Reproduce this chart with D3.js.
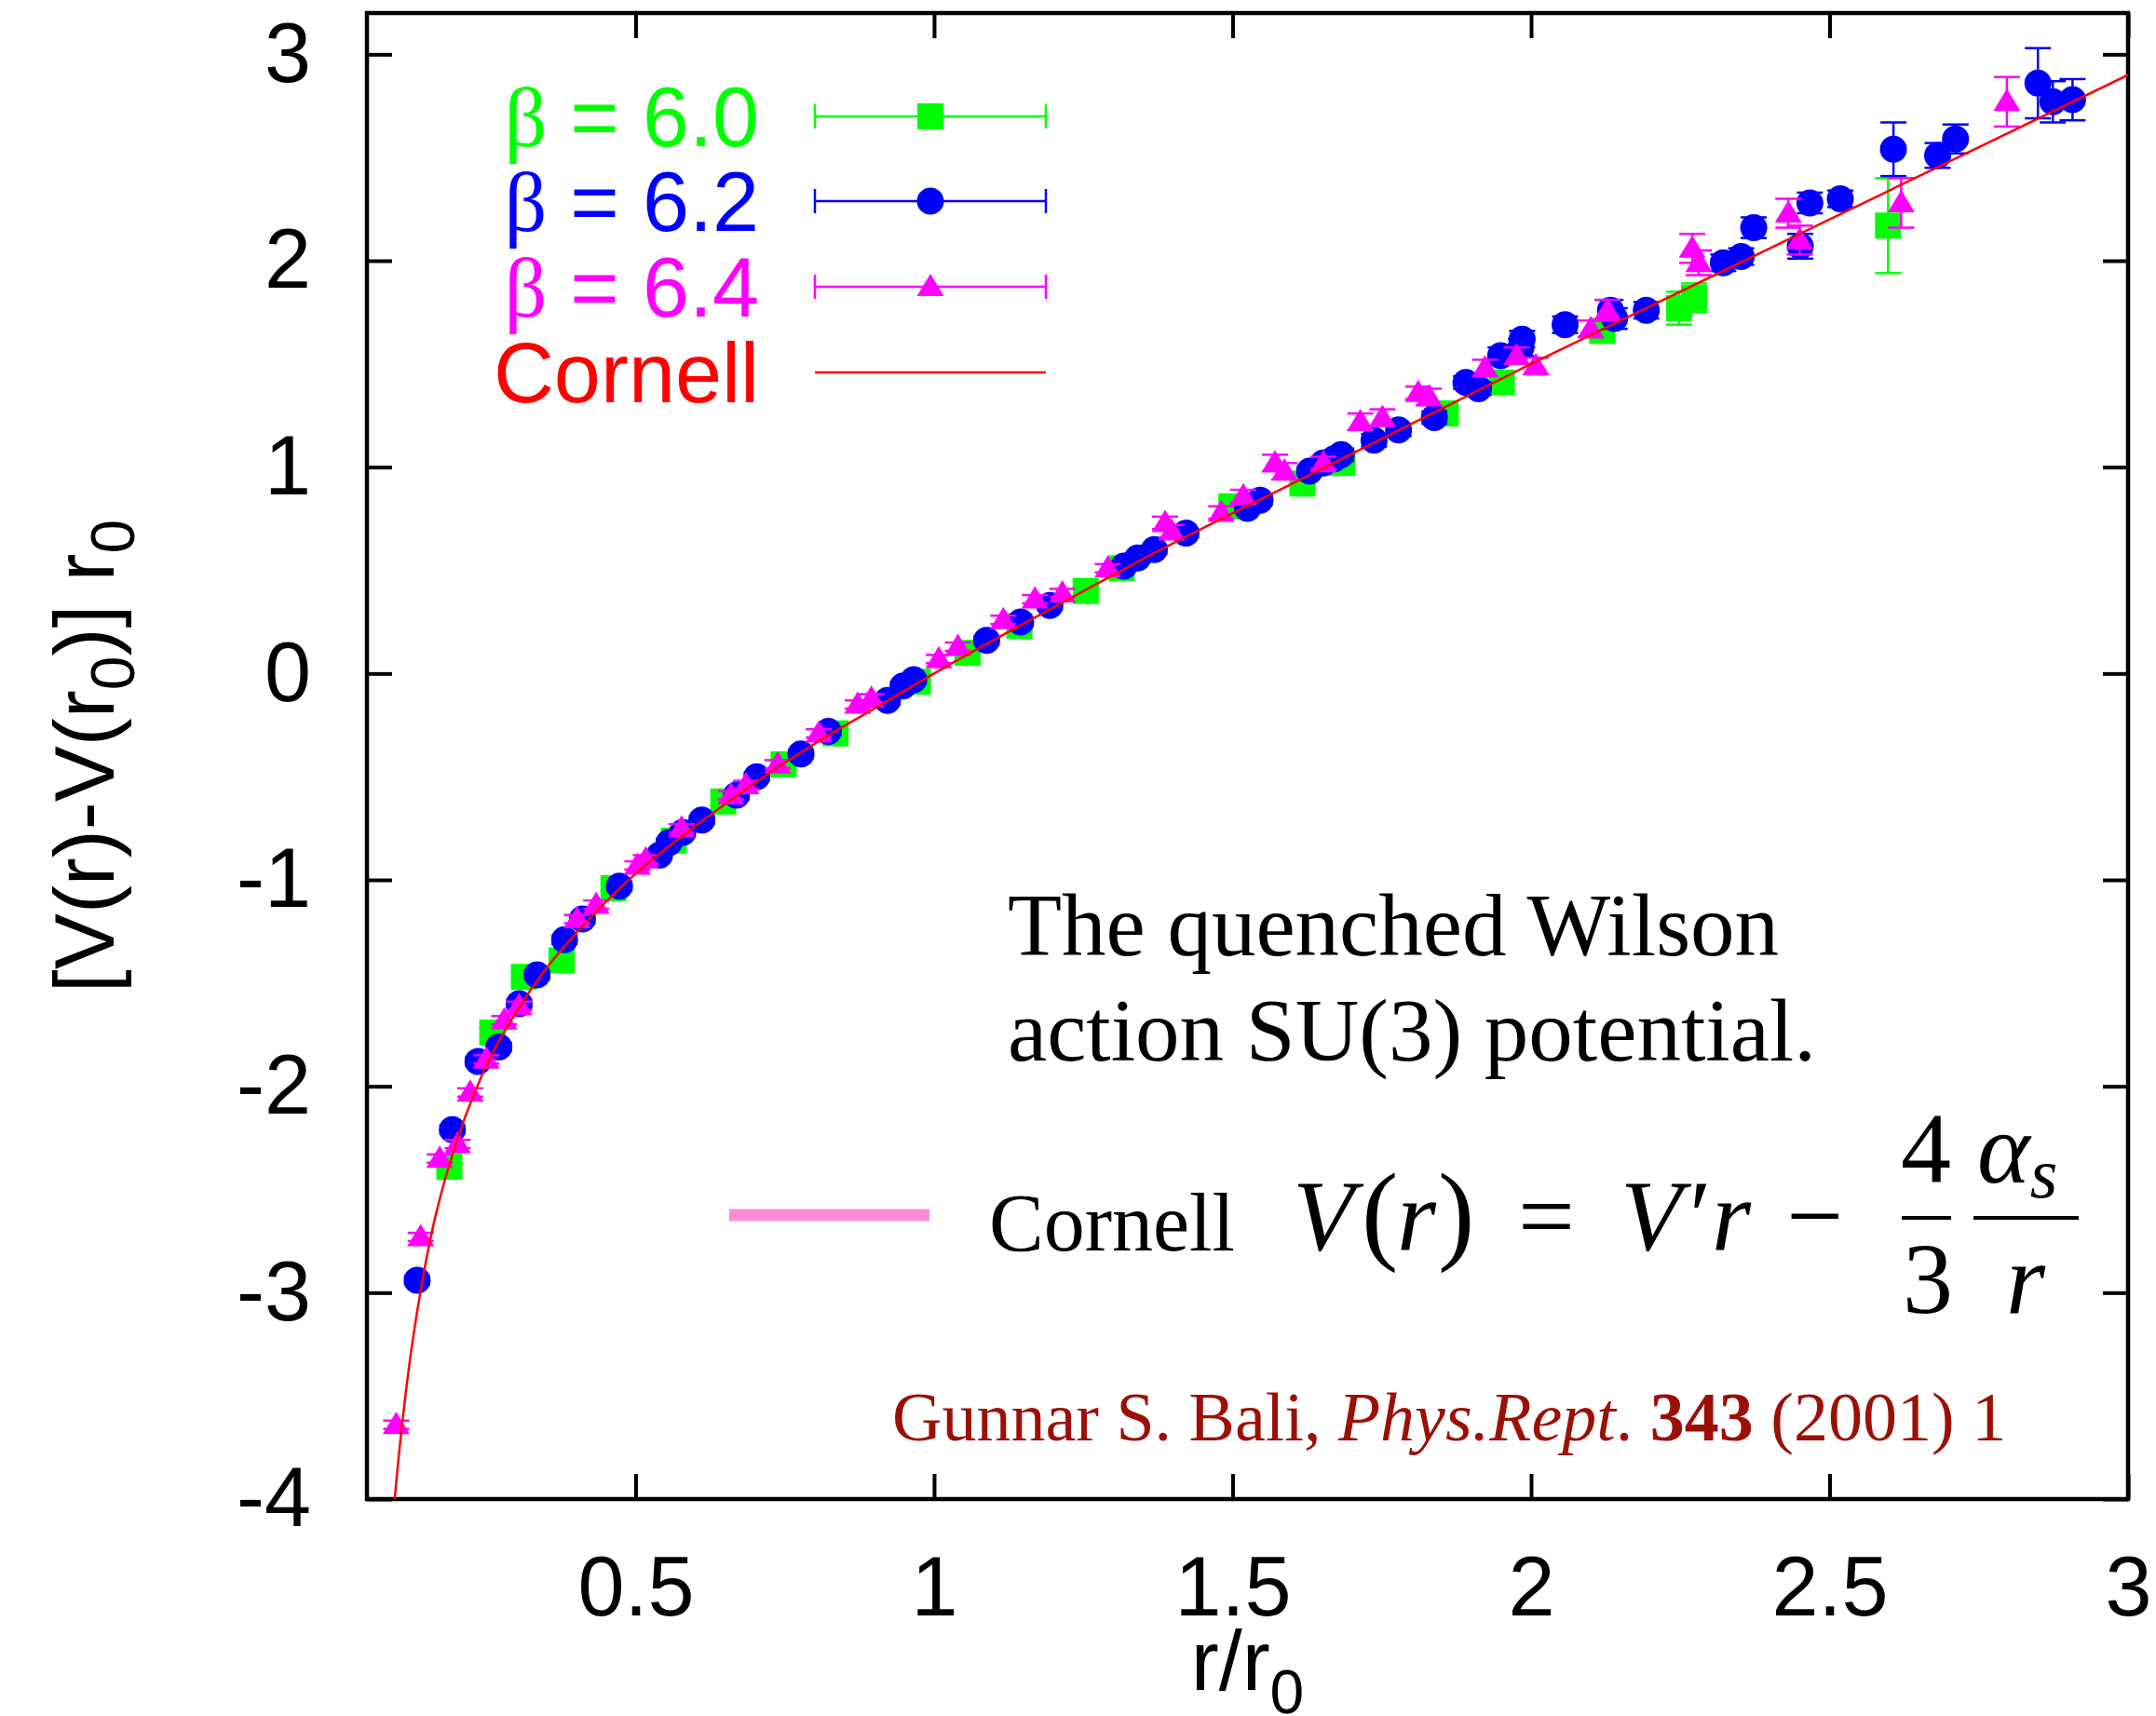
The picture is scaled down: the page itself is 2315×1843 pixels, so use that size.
<!DOCTYPE html>
<html>
<head>
<meta charset="utf-8">
<script src="https://cdn.jsdelivr.net/npm/d3@7"></script>
<style>
  html, body { margin: 0; padding: 0; background: #fff; }
  svg { display: block; }
</style>
</head>
<body>
<div id="chart"></div>
<script>
// beta = 6.0 (green squares)
var r60 = [0.188, 0.260, 0.313, 0.376, 0.463, 0.564, 0.647, 0.748, 0.835, 0.973, 1.056, 1.143, 1.254, 1.314, 1.498, 1.617, 1.684, 1.857, 1.951, 2.119, 2.248, 2.273, 2.598];
var v60 = [-2.39, -1.74, -1.47, -1.39, -1.04, -0.81, -0.62, -0.44, -0.29, -0.04, 0.10, 0.23, 0.40, 0.51, 0.81, 0.92, 1.02, 1.26, 1.41, 1.66, 1.77, 1.82, 2.17];
var e60 = [0.02, 0.02, 0.02, 0.02, 0.02, 0.02, 0.02, 0.02, 0.02, 0.02, 0.02, 0.02, 0.02, 0.02, 0.03, 0.03, 0.03, 0.03, 0.04, 0.04, 0.08, 0.07, 0.23];

// beta = 6.2 (blue circles)
var r62 = [0.134, 0.193, 0.236, 0.271, 0.305, 0.335, 0.381, 0.411, 0.473, 0.540, 0.556, 0.579, 0.611, 0.669, 0.703, 0.777, 0.823, 0.922, 0.948, 0.966, 1.088, 1.145, 1.194, 1.318, 1.341, 1.369, 1.422, 1.525, 1.546, 1.629, 1.652, 1.670, 1.682, 1.737, 1.778, 1.838, 1.891, 1.912, 1.949, 1.983, 1.985, 2.057, 2.133, 2.140, 2.193, 2.322, 2.352, 2.373, 2.451, 2.467, 2.518, 2.607, 2.681, 2.711, 2.849, 2.874, 2.907];
var v62 = [-2.94, -2.21, -1.88, -1.81, -1.60, -1.46, -1.29, -1.19, -1.03, -0.88, -0.82, -0.77, -0.71, -0.59, -0.50, -0.39, -0.28, -0.13, -0.06, -0.03, 0.16, 0.25, 0.33, 0.52, 0.56, 0.60, 0.68, 0.80, 0.84, 0.98, 1.02, 1.04, 1.06, 1.13, 1.18, 1.24, 1.41, 1.38, 1.54, 1.58, 1.62, 1.69, 1.76, 1.72, 1.76, 1.99, 2.02, 2.16, 2.07, 2.28, 2.30, 2.54, 2.51, 2.59, 2.86, 2.77, 2.78];
var e62 = [0.02, 0.02, 0.02, 0.02, 0.02, 0.02, 0.02, 0.02, 0.02, 0.02, 0.02, 0.02, 0.02, 0.02, 0.02, 0.02, 0.02, 0.02, 0.02, 0.02, 0.02, 0.02, 0.02, 0.02, 0.02, 0.02, 0.02, 0.02, 0.02, 0.02, 0.02, 0.02, 0.03, 0.03, 0.03, 0.03, 0.03, 0.03, 0.04, 0.04, 0.04, 0.04, 0.05, 0.05, 0.04, 0.04, 0.04, 0.05, 0.06, 0.05, 0.04, 0.13, 0.06, 0.07, 0.17, 0.10, 0.10];

// beta = 6.4 (magenta triangles)
var r64 = [0.099, 0.140, 0.172, 0.202, 0.223, 0.250, 0.280, 0.305, 0.402, 0.434, 0.503, 0.517, 0.577, 0.660, 0.685, 0.738, 0.807, 0.872, 0.895, 1.008, 1.040, 1.116, 1.169, 1.215, 1.291, 1.387, 1.398, 1.481, 1.518, 1.571, 1.587, 1.652, 1.714, 1.751, 1.811, 1.829, 1.923, 1.976, 2.008, 2.100, 2.128, 2.270, 2.281, 2.431, 2.450, 2.620, 2.797];
var v64 = [-3.64, -2.73, -2.35, -2.28, -2.03, -1.87, -1.68, -1.61, -1.19, -1.12, -0.93, -0.90, -0.75, -0.59, -0.54, -0.44, -0.29, -0.15, -0.12, 0.07, 0.13, 0.26, 0.36, 0.39, 0.51, 0.73, 0.69, 0.78, 0.86, 1.02, 0.98, 1.02, 1.22, 1.24, 1.36, 1.34, 1.48, 1.54, 1.49, 1.67, 1.76, 2.06, 1.99, 2.23, 2.10, 2.28, 2.77];
var e64 = [0.02, 0.02, 0.02, 0.02, 0.02, 0.02, 0.02, 0.02, 0.02, 0.02, 0.02, 0.02, 0.02, 0.02, 0.02, 0.02, 0.02, 0.02, 0.02, 0.02, 0.02, 0.02, 0.02, 0.02, 0.02, 0.03, 0.03, 0.03, 0.03, 0.04, 0.04, 0.03, 0.04, 0.04, 0.03, 0.04, 0.04, 0.04, 0.04, 0.04, 0.05, 0.07, 0.06, 0.07, 0.07, 0.12, 0.12];

// Cornell curve
var cornellR = [0.0965, 0.10, 0.12, 0.14, 0.16, 0.18, 0.20, 0.25, 0.30, 0.35, 0.40, 0.50, 0.60, 0.70, 0.80, 0.90, 1.00, 1.20, 1.40, 1.60, 1.80, 2.00, 2.25, 2.50, 2.75, 3.00];
var cornellV = [-4.00, -3.89, -3.37, -2.99, -2.69, -2.46, -2.27, -1.90, -1.64, -1.43, -1.26, -0.97, -0.74, -0.53, -0.34, -0.17, 0.00, 0.32, 0.63, 0.92, 1.21, 1.50, 1.85, 2.20, 2.55, 2.90];

var xTicks = [0.5, 1, 1.5, 2, 2.5, 3];
var yTicks = [-4, -3, -2, -1, 0, 1, 2, 3];

var W = 2315, H = 1843;
var margin = {left: 394, right: 30, top: 14, bottom: 233};
var sans = "'Liberation Sans', Arial, Helvetica, sans-serif";
var serif = "'Liberation Serif', 'Times New Roman', Times, serif";

var svg = d3.select("#chart").append("svg")
    .attr("width", W).attr("height", H);

var x = d3.scaleLinear().domain([0.05, 3]).range([margin.left, W - margin.right]);
var y = d3.scaleLinear().domain([-4, 3.2]).range([H - margin.bottom, margin.top]);

// axes with inward ticks on all four sides
function styleAxis(g) {
    g.select(".domain").remove();
    g.selectAll(".tick line").attr("stroke", "#000").attr("stroke-width", 4);
    g.selectAll(".tick text").attr("fill", "#000");
    g.attr("font-family", sans).attr("font-size", 90);
}

svg.append("g")
    .attr("transform", "translate(0," + y.range()[0] + ")")
    .call(d3.axisBottom(x).tickValues(xTicks).tickSizeInner(-27).tickSizeOuter(0)
        .tickPadding(61).tickFormat(function(d){ return String(d); }))
    .call(styleAxis);
svg.append("g")
    .attr("transform", "translate(0," + y.range()[1] + ")")
    .call(d3.axisTop(x).tickValues(xTicks).tickSizeInner(-27).tickSizeOuter(0).tickFormat(""))
    .call(styleAxis);
svg.append("g")
    .attr("transform", "translate(" + x.range()[0] + ",0)")
    .call(d3.axisLeft(y).tickValues(yTicks).tickSizeInner(-27).tickSizeOuter(0)
        .tickPadding(60).tickFormat(function(d){ return String(d); }))
    .call(styleAxis);
svg.append("g")
    .attr("transform", "translate(" + x.range()[1] + ",0)")
    .call(d3.axisRight(y).tickValues(yTicks).tickSizeInner(-27).tickSizeOuter(0).tickFormat(""))
    .call(styleAxis);

svg.append("rect")
    .attr("x", x.range()[0]).attr("y", y.range()[1])
    .attr("width", x.range()[1] - x.range()[0])
    .attr("height", y.range()[0] - y.range()[1])
    .attr("fill", "none").attr("stroke", "#000").attr("stroke-width", 4.5);

// axis titles
var xl = svg.append("text")
    .attr("x", (x.range()[0] + x.range()[1]) / 2).attr("y", 1815)
    .attr("text-anchor", "middle")
    .attr("font-family", sans).attr("font-size", 90);
xl.append("tspan").text("r/r");
xl.append("tspan").attr("font-size", 66).attr("dy", 25).text("0");

var yl = svg.append("text")
    .attr("transform", "translate(122," + ((y.range()[0] + y.range()[1]) / 2) + ") rotate(-90)")
    .attr("text-anchor", "middle")
    .attr("font-family", sans).attr("font-size", 90);
yl.append("tspan").text("[V(r)-V(r");
yl.append("tspan").attr("font-size", 66).attr("dy", 22).text("0");
yl.append("tspan").attr("dy", -22).text(")] r");
yl.append("tspan").attr("font-size", 66).attr("dy", 22).text("0");

// annotation texts
svg.append("text").attr("x", 1082).attr("y", 1026)
    .attr("font-family", serif).attr("font-size", 95).text("The quenched Wilson");
svg.append("text").attr("x", 1082).attr("y", 1139)
    .attr("font-family", serif).attr("font-size", 95).text("action SU(3) potential.");

svg.append("line")
    .attr("x1", 783).attr("x2", 998).attr("y1", 1305).attr("y2", 1305)
    .attr("stroke", "#ff8ad8").attr("stroke-width", 13);
svg.append("text").attr("x", 1062).attr("y", 1343)
    .attr("font-family", serif).attr("font-size", 88).text("Cornell");

// formula V(r) = V'r - 4/3 alpha_s / r
var fm = svg.append("g").attr("font-family", serif).attr("font-size", 108).attr("fill", "#000");
var main = fm.append("text").attr("y", 1342);
main.append("tspan").attr("x", 1388).attr("font-style", "italic").text("V");
main.append("tspan").attr("x", 1462).attr("font-size", 118).text("(");
main.append("tspan").attr("x", 1500).attr("font-style", "italic").text("r");
main.append("tspan").attr("x", 1544).attr("font-size", 118).text(")");
main.append("tspan").attr("x", 1630).text("=");
main.append("tspan").attr("x", 1740).attr("font-style", "italic").text("V");
main.append("tspan").attr("x", 1814).text("\u2032");
main.append("tspan").attr("x", 1838).attr("font-style", "italic").text("r");
main.append("tspan").attr("x", 1918).text("\u2212");
fm.append("text").attr("x", 2068).attr("y", 1270).attr("text-anchor", "middle").text("4");
fm.append("text").attr("x", 2070).attr("y", 1410).attr("text-anchor", "middle").text("3");
fm.append("line").attr("x1", 2042).attr("x2", 2095).attr("y1", 1308).attr("y2", 1308)
    .attr("stroke", "#000").attr("stroke-width", 4);
var num = fm.append("text").attr("x", 2123).attr("y", 1270);
num.append("tspan").attr("font-style", "italic").text("\u03b1");
num.append("tspan").attr("font-style", "italic").attr("font-size", 76).attr("dy", 16).text("s");
fm.append("text").attr("x", 2175).attr("y", 1410).attr("text-anchor", "middle")
    .attr("font-style", "italic").text("r");
fm.append("line").attr("x1", 2119).attr("x2", 2232).attr("y1", 1308).attr("y2", 1308)
    .attr("stroke", "#000").attr("stroke-width", 4);

// citation
var cite = svg.append("text").attr("x", 958).attr("y", 1547)
    .attr("font-family", serif).attr("font-size", 74).attr("fill", "#9b1006");
cite.append("tspan").text("Gunnar S. Bali, ");
cite.append("tspan").attr("font-style", "italic").text("Phys.Rept");
cite.append("tspan").text(". ");
cite.append("tspan").attr("font-weight", "bold").text("343");
cite.append("tspan").text(" (2001) 1");

// data
var plot = svg.append("g");
svg.append("clipPath").attr("id", "clip").append("rect")
    .attr("x", x.range()[0]).attr("y", y.range()[1])
    .attr("width", x.range()[1] - x.range()[0])
    .attr("height", y.range()[0] - y.range()[1]);
plot.attr("clip-path", "url(#clip)");

function zipSeries(rs, vs, es) {
    return rs.map(function(r, i){ return {r: r, v: vs[i], e: es[i]}; });
}
var series = [
    {label: "6.0", color: "#00ff00", shape: "square", data: zipSeries(r60, v60, e60)},
    {label: "6.2", color: "#0000ff", shape: "circle", data: zipSeries(r62, v62, e62)},
    {label: "6.4", color: "#ff00ff", shape: "triangle", data: zipSeries(r64, v64, e64)}
];

var cap = 14;
function drawMarker(sel, shape, color) {
    if (shape === "square") {
        sel.append("rect").attr("x", -14).attr("y", -14).attr("width", 28).attr("height", 28)
            .attr("fill", color);
    } else if (shape === "circle") {
        sel.append("circle").attr("r", 14.5).attr("fill", color);
    } else {
        sel.append("path").attr("d", "M0,-14L14.5,10L-14.5,10Z").attr("fill", color);
    }
}

series.forEach(function(s) {
    var g = plot.append("g");
    var pts = g.selectAll("g.pt").data(s.data).join("g").attr("class", "pt");
    pts.append("line")
        .attr("x1", function(d){ return x(d.r); }).attr("x2", function(d){ return x(d.r); })
        .attr("y1", function(d){ return y(d.v - d.e); }).attr("y2", function(d){ return y(d.v + d.e); })
        .attr("stroke", s.color).attr("stroke-width", 2.5);
    [-1, 1].forEach(function(sg) {
        pts.append("line")
            .attr("x1", function(d){ return x(d.r) - cap; }).attr("x2", function(d){ return x(d.r) + cap; })
            .attr("y1", function(d){ return y(d.v + sg * d.e); }).attr("y2", function(d){ return y(d.v + sg * d.e); })
            .attr("stroke", s.color).attr("stroke-width", 2.5);
    });
    pts.each(function(d) {
        var m = d3.select(this).append("g")
            .attr("transform", "translate(" + x(d.r) + "," + y(d.v) + ")");
        drawMarker(m, s.shape, s.color);
    });
});

var line = d3.line()
    .x(function(d){ return x(d[0]); })
    .y(function(d){ return y(d[1]); })
    .curve(d3.curveMonotoneX);
plot.append("path")
    .datum(cornellR.map(function(r, i){ return [r, cornellV[i]]; }))
    .attr("d", line)
    .attr("fill", "none").attr("stroke", "#ff0000").attr("stroke-width", 2.5);

// legend
var legendY = [157, 248, 340, 432];
var leg = svg.append("g");
series.forEach(function(s, i) {
    var by = legendY[i];
    var t = leg.append("text").attr("x", 815).attr("y", by).attr("text-anchor", "end")
        .attr("font-family", sans).attr("font-size", 90).attr("fill", s.color);
    t.append("tspan").attr("font-family", serif).text("\u03b2");
    t.append("tspan").text(" = " + s.label);
    var cy = by - 32;
    leg.append("line").attr("x1", 875).attr("x2", 1123).attr("y1", cy).attr("y2", cy)
        .attr("stroke", s.color).attr("stroke-width", 2.5);
    [875, 1123].forEach(function(ex) {
        leg.append("line").attr("x1", ex).attr("x2", ex).attr("y1", cy - 13).attr("y2", cy + 13)
            .attr("stroke", s.color).attr("stroke-width", 2.5);
    });
    var m = leg.append("g").attr("transform", "translate(999," + cy + ")");
    drawMarker(m, s.shape, s.color);
});
leg.append("text").attr("x", 815).attr("y", legendY[3]).attr("text-anchor", "end")
    .attr("font-family", sans).attr("font-size", 90).attr("fill", "#ff0000").text("Cornell");
leg.append("line").attr("x1", 875).attr("x2", 1123)
    .attr("y1", legendY[3] - 32).attr("y2", legendY[3] - 32)
    .attr("stroke", "#ff0000").attr("stroke-width", 2.5);
</script>
</body>
</html>
